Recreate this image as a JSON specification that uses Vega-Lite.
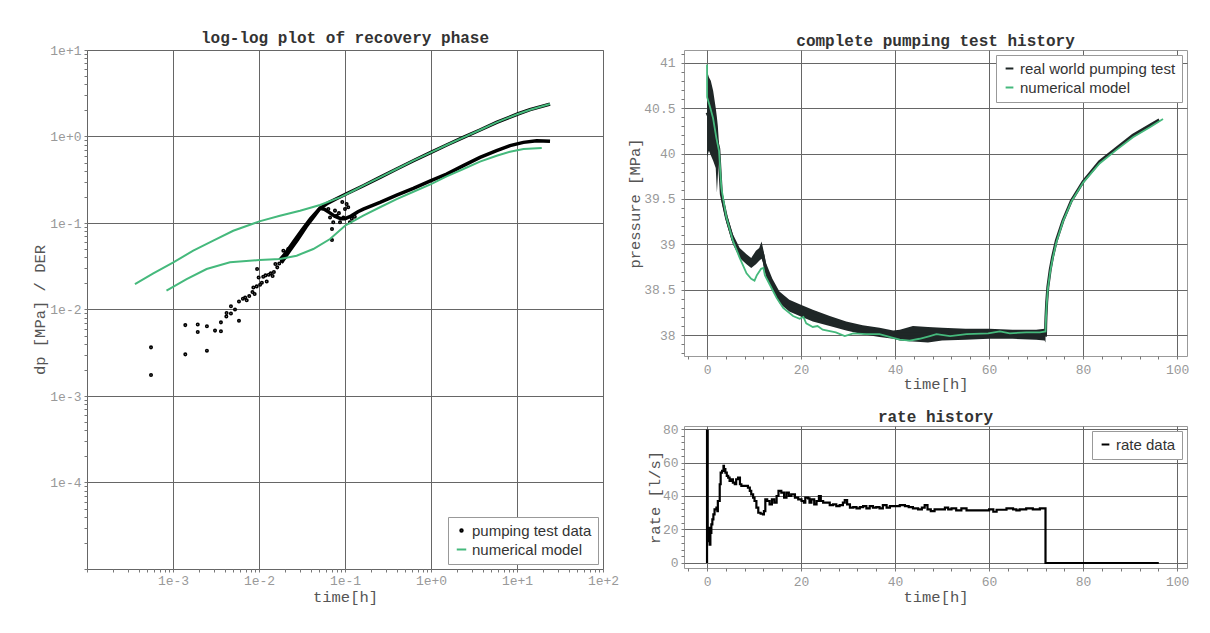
{
  "$schema": "https://vega.github.io/schema/vega-lite/v6.json",
  "autosize": {"type": "pad"},
  "padding": {"left": 32, "top": 29, "right": 5, "bottom": 5},
  "background": "white",
  "config": {
    "font": "Liberation Mono",
    "view": {"stroke": "#999999", "strokeWidth": 1},
    "axis": {
      "domain": false, "grid": true, "gridColor": "#666666", "gridWidth": 1,
      "tickColor": "#777777", "tickWidth": 1, "tickSize": 3,
      "labelFont": "Liberation Mono", "labelFontSize": 13, "labelColor": "#999999",
      "titleFont": "Liberation Mono", "titleFontSize": 15.5, "titleFontWeight": "normal", "titleColor": "#555555",
      "labelFlush": false, "labelOverlap": false, "labelBound": false
    },
    "title": {"font": "Liberation Mono", "fontSize": 16, "fontWeight": "bold", "color": "#333333", "offset": -1.5, "frame": "group", "anchor": "middle"},
    "legend": {
      "labelFont": "Liberation Sans", "labelFontSize": 15, "labelColor": "#333333",
      "strokeColor": "#999999", "fillColor": "white", "padding": 6, "offset": 5,
      "rowPadding": 3, "labelOffset": 3, "symbolStrokeWidth": 2, "symbolSize": 60, "symbolType": "stroke"
    }
  },
  "resolve": {"scale": {"color": "independent", "shape": "independent", "size": "independent"}, "legend": {"color": "independent", "shape": "independent", "size": "independent"}},
  "datasets": {
    "llpts": [
      {"t":0.000555,"v":0.00365,"s":"pumping test data"},{"t":0.000555,"v":0.00175,"s":"pumping test data"},
      {"t":0.00139,"v":0.0066,"s":"pumping test data"},{"t":0.00139,"v":0.00303,"s":"pumping test data"},
      {"t":0.00194,"v":0.0067,"s":"pumping test data"},{"t":0.00194,"v":0.0055,"s":"pumping test data"},
      {"t":0.00248,"v":0.0064,"s":"pumping test data"},{"t":0.00248,"v":0.00334,"s":"pumping test data"},
      {"t":0.00308,"v":0.0057,"s":"pumping test data"},{"t":0.00361,"v":0.0071,"s":"pumping test data"},
      {"t":0.00361,"v":0.0056,"s":"pumping test data"},{"t":0.00417,"v":0.0083,"s":"pumping test data"},
      {"t":0.0042,"v":0.0091,"s":"pumping test data"},{"t":0.00472,"v":0.0109,"s":"pumping test data"},
      {"t":0.00472,"v":0.009,"s":"pumping test data"},{"t":0.00526,"v":0.01,"s":"pumping test data"},
      {"t":0.00585,"v":0.0074,"s":"pumping test data"},{"t":0.00585,"v":0.0124,"s":"pumping test data"},
      {"t":0.0065,"v":0.0133,"s":"pumping test data"},{"t":0.0069,"v":0.0138,"s":"pumping test data"},
      {"t":0.0072,"v":0.0128,"s":"pumping test data"},{"t":0.0077,"v":0.0143,"s":"pumping test data"},
      {"t":0.0084,"v":0.0159,"s":"pumping test data"},{"t":0.0086,"v":0.018,"s":"pumping test data"},
      {"t":0.0089,"v":0.0151,"s":"pumping test data"},{"t":0.0094,"v":0.0185,"s":"pumping test data"},
      {"t":0.0095,"v":0.0294,"s":"pumping test data"},{"t":0.0099,"v":0.0235,"s":"pumping test data"},
      {"t":0.0103,"v":0.0193,"s":"pumping test data"},{"t":0.0108,"v":0.0204,"s":"pumping test data"},
      {"t":0.0112,"v":0.0239,"s":"pumping test data"},{"t":0.0119,"v":0.0248,"s":"pumping test data"},
      {"t":0.0123,"v":0.0211,"s":"pumping test data"},{"t":0.013,"v":0.0252,"s":"pumping test data"},
      {"t":0.0137,"v":0.0262,"s":"pumping test data"},{"t":0.0144,"v":0.0244,"s":"pumping test data"},
      {"t":0.0149,"v":0.0271,"s":"pumping test data"},{"t":0.0155,"v":0.0336,"s":"pumping test data"},
      {"t":0.0163,"v":0.0307,"s":"pumping test data"},{"t":0.0172,"v":0.0341,"s":"pumping test data"},
      {"t":0.0185,"v":0.0366,"s":"pumping test data"},{"t":0.0192,"v":0.0479,"s":"pumping test data"},
      {"t":0.02,"v":0.04,"s":"pumping test data"},{"t":0.0219,"v":0.05,"s":"pumping test data"},
      {"t":0.0706,"v":0.0852,"s":"pumping test data"},{"t":0.0706,"v":0.0635,"s":"pumping test data"},
      {"t":0.1045,"v":0.166,"s":"pumping test data"},{"t":0.109,"v":0.152,"s":"pumping test data"},
      {"t":0.1,"v":0.145,"s":"pumping test data"},{"t":0.067,"v":0.116,"s":"pumping test data"},
      {"t":0.073,"v":0.102,"s":"pumping test data"},{"t":0.0875,"v":0.102,"s":"pumping test data"},
      {"t":0.114,"v":0.102,"s":"pumping test data"},{"t":0.08,"v":0.121,"s":"pumping test data"},
      {"t":0.0957,"v":0.116,"s":"pumping test data"},{"t":0.064,"v":0.145,"s":"pumping test data"},
      {"t":0.0765,"v":0.139,"s":"pumping test data"},{"t":0.12,"v":0.112,"s":"pumping test data"},
      {"t":0.13,"v":0.118,"s":"pumping test data"},{"t":0.093,"v":0.175,"s":"pumping test data"},
      {"t":0.085,"v":0.13,"s":"pumping test data"}
    ],
    "lltrace": [
      {"t":0.01738,"v":0.03715,"c":"dp","s":"pumping test data"},{"t":0.01995,"v":0.04365,"c":"dp","s":"pumping test data"},
      {"t":0.02512,"v":0.06026,"c":"dp","s":"pumping test data"},{"t":0.03162,"v":0.08318,"c":"dp","s":"pumping test data"},
      {"t":0.03981,"v":0.1122,"c":"dp","s":"pumping test data"},{"t":0.05012,"v":0.1445,"c":"dp","s":"pumping test data"},
      {"t":0.0631,"v":0.1698,"c":"dp","s":"pumping test data"},{"t":0.07943,"v":0.1905,"c":"dp","s":"pumping test data"},
      {"t":0.1,"v":0.2138,"c":"dp","s":"pumping test data"},{"t":0.1633,"v":0.2698,"c":"dp","s":"pumping test data"},
      {"t":0.2553,"v":0.3373,"c":"dp","s":"pumping test data"},{"t":0.399,"v":0.4207,"c":"dp","s":"pumping test data"},
      {"t":0.6237,"v":0.5248,"c":"dp","s":"pumping test data"},{"t":1.0,"v":0.6561,"c":"dp","s":"pumping test data"},
      {"t":1.521,"v":0.798,"c":"dp","s":"pumping test data"},{"t":2.377,"v":0.9772,"c":"dp","s":"pumping test data"},
      {"t":3.715,"v":1.189,"c":"dp","s":"pumping test data"},{"t":5.794,"v":1.459,"c":"dp","s":"pumping test data"},
      {"t":10.19,"v":1.82,"c":"dp","s":"pumping test data"},{"t":14.16,"v":2.042,"c":"dp","s":"pumping test data"},
      {"t":24.21,"v":2.371,"c":"dp","s":"pumping test data"},
      {"t":0.0182,"v":0.03467,"c":"der","s":"pumping test data"},{"t":0.02239,"v":0.04677,"c":"der","s":"pumping test data"},
      {"t":0.02818,"v":0.06457,"c":"der","s":"pumping test data"},{"t":0.03548,"v":0.0912,"c":"der","s":"pumping test data"},
      {"t":0.04467,"v":0.123,"c":"der","s":"pumping test data"},{"t":0.05129,"v":0.1479,"c":"der","s":"pumping test data"},
      {"t":0.05754,"v":0.1445,"c":"der","s":"pumping test data"},{"t":0.06607,"v":0.1318,"c":"der","s":"pumping test data"},
      {"t":0.07586,"v":0.1202,"c":"der","s":"pumping test data"},{"t":0.08913,"v":0.1122,"c":"der","s":"pumping test data"},
      {"t":0.1,"v":0.1122,"c":"der","s":"pumping test data"},{"t":0.1175,"v":0.1202,"c":"der","s":"pumping test data"},
      {"t":0.1413,"v":0.1349,"c":"der","s":"pumping test data"},{"t":0.1633,"v":0.1449,"c":"der","s":"pumping test data"},
      {"t":0.2553,"v":0.1734,"c":"der","s":"pumping test data"},{"t":0.399,"v":0.2104,"c":"der","s":"pumping test data"},
      {"t":0.6237,"v":0.2512,"c":"der","s":"pumping test data"},{"t":1.0,"v":0.3083,"c":"der","s":"pumping test data"},
      {"t":1.521,"v":0.3681,"c":"der","s":"pumping test data"},{"t":2.377,"v":0.4603,"c":"der","s":"pumping test data"},
      {"t":3.715,"v":0.5741,"c":"der","s":"pumping test data"},{"t":5.794,"v":0.6855,"c":"der","s":"pumping test data"},
      {"t":8.299,"v":0.7834,"c":"der","s":"pumping test data"},{"t":11.86,"v":0.8551,"c":"der","s":"pumping test data"},
      {"t":16.94,"v":0.8954,"c":"der","s":"pumping test data"},{"t":24.21,"v":0.879,"c":"der","s":"pumping test data"}
    ],
    "llmodel": [
      {"t":0.000361,"v":0.0197,"c":"m1","s":"numerical model"},{"t":0.00059,"v":0.0262,"c":"m1","s":"numerical model"},
      {"t":0.00101,"v":0.0351,"c":"m1","s":"numerical model"},{"t":0.00172,"v":0.0479,"c":"m1","s":"numerical model"},
      {"t":0.00294,"v":0.0624,"c":"m1","s":"numerical model"},{"t":0.00502,"v":0.0814,"c":"m1","s":"numerical model"},
      {"t":0.0101,"v":0.1044,"c":"m1","s":"numerical model"},{"t":0.0175,"v":0.1214,"c":"m1","s":"numerical model"},
      {"t":0.03,"v":0.1387,"c":"m1","s":"numerical model"},{"t":0.0512,"v":0.1613,"c":"m1","s":"numerical model"},
      {"t":0.0875,"v":0.198,"c":"m1","s":"numerical model"},{"t":0.125,"v":0.236,"c":"m1","s":"numerical model"},
      {"t":0.163,"v":0.27,"c":"m1","s":"numerical model"},{"t":0.255,"v":0.337,"c":"m1","s":"numerical model"},
      {"t":0.399,"v":0.421,"c":"m1","s":"numerical model"},{"t":0.624,"v":0.525,"c":"m1","s":"numerical model"},
      {"t":1.0,"v":0.656,"c":"m1","s":"numerical model"},{"t":1.52,"v":0.798,"c":"m1","s":"numerical model"},
      {"t":2.38,"v":0.977,"c":"m1","s":"numerical model"},{"t":3.71,"v":1.189,"c":"m1","s":"numerical model"},
      {"t":5.79,"v":1.459,"c":"m1","s":"numerical model"},{"t":10.2,"v":1.82,"c":"m1","s":"numerical model"},
      {"t":14.2,"v":2.04,"c":"m1","s":"numerical model"},{"t":24.2,"v":2.38,"c":"m1","s":"numerical model"},
      {"t":0.00084,"v":0.0165,"c":"m2","s":"numerical model"},{"t":0.00144,"v":0.0225,"c":"m2","s":"numerical model"},
      {"t":0.00246,"v":0.0294,"c":"m2","s":"numerical model"},{"t":0.0046,"v":0.0351,"c":"m2","s":"numerical model"},
      {"t":0.0101,"v":0.0373,"c":"m2","s":"numerical model"},{"t":0.0175,"v":0.0383,"c":"m2","s":"numerical model"},
      {"t":0.0274,"v":0.0419,"c":"m2","s":"numerical model"},{"t":0.0428,"v":0.05,"c":"m2","s":"numerical model"},
      {"t":0.067,"v":0.0653,"c":"m2","s":"numerical model"},{"t":0.1,"v":0.093,"c":"m2","s":"numerical model"},
      {"t":0.163,"v":0.122,"c":"m2","s":"numerical model"},{"t":0.255,"v":0.152,"c":"m2","s":"numerical model"},
      {"t":0.399,"v":0.189,"c":"m2","s":"numerical model"},{"t":0.624,"v":0.23,"c":"m2","s":"numerical model"},
      {"t":1.0,"v":0.282,"c":"m2","s":"numerical model"},{"t":1.52,"v":0.346,"c":"m2","s":"numerical model"},
      {"t":2.38,"v":0.421,"c":"m2","s":"numerical model"},{"t":3.71,"v":0.512,"c":"m2","s":"numerical model"},
      {"t":5.8,"v":0.6,"c":"m2","s":"numerical model"},{"t":8.29,"v":0.667,"c":"m2","s":"numerical model"},
      {"t":11.9,"v":0.716,"c":"m2","s":"numerical model"},{"t":19.4,"v":0.736,"c":"m2","s":"numerical model"}
    ],
    "band": [
      {"t":0,"p":39.96,"hi":40.91},{"t":0.4,"p":40.03,"hi":40.84},{"t":0.8,"p":39.98,"hi":40.8},
      {"t":1.3,"p":39.92,"hi":40.69},{"t":1.85,"p":39.84,"hi":40.5},{"t":2.1,"p":39.57,"hi":40.4},
      {"t":2.3,"p":39.75,"hi":40.3},{"t":2.5,"p":39.96,"hi":40.14},{"t":2.8,"p":39.7,"hi":39.95},
      {"t":3.05,"p":39.48,"hi":39.63},{"t":4.1,"p":39.24,"hi":39.35},{"t":5.5,"p":39.0,"hi":39.11},
      {"t":6.95,"p":38.85,"hi":38.96},{"t":8.4,"p":38.78,"hi":38.89},{"t":9.4,"p":38.74,"hi":38.85},
      {"t":10.4,"p":38.78,"hi":38.93},{"t":11.1,"p":38.82,"hi":38.96},{"t":11.6,"p":38.84,"hi":39.03},
      {"t":11.9,"p":38.8,"hi":38.96},{"t":12.5,"p":38.65,"hi":38.8},{"t":13.9,"p":38.49,"hi":38.62},
      {"t":15.4,"p":38.35,"hi":38.48},{"t":17.5,"p":38.26,"hi":38.39},{"t":19.7,"p":38.21,"hi":38.34},
      {"t":22.5,"p":38.15,"hi":38.28},{"t":26.1,"p":38.1,"hi":38.21},{"t":29.6,"p":38.05,"hi":38.15},
      {"t":33.1,"p":38.01,"hi":38.11},{"t":36.7,"p":37.98,"hi":38.08},{"t":39.6,"p":37.96,"hi":38.05},
      {"t":41,"p":37.94,"hi":38.06},{"t":43.8,"p":37.93,"hi":38.1},{"t":47,"p":37.92,"hi":38.09},
      {"t":50,"p":37.94,"hi":38.08},{"t":55,"p":37.95,"hi":38.07},{"t":60,"p":37.96,"hi":38.07},
      {"t":65,"p":37.96,"hi":38.06},{"t":70,"p":37.95,"hi":38.06},{"t":71.8,"p":37.94,"hi":38.07},
      {"t":72,"p":37.92,"hi":38.06}
    ],
    "rw": [
      {"t":0,"p":40.45},{"t":1.3,"p":40.3},{"t":2.5,"p":40.05},{"t":3.05,"p":39.55},{"t":4.1,"p":39.3},
      {"t":5.5,"p":39.05},{"t":6.95,"p":38.9},{"t":8.4,"p":38.83},{"t":9.4,"p":38.8},{"t":10.4,"p":38.85},
      {"t":11.1,"p":38.89},{"t":11.6,"p":38.93},{"t":11.9,"p":38.88},{"t":12.5,"p":38.72},{"t":13.9,"p":38.55},
      {"t":15.4,"p":38.42},{"t":17.5,"p":38.33},{"t":19.7,"p":38.28},{"t":22.5,"p":38.22},{"t":26.1,"p":38.16},
      {"t":29.6,"p":38.1},{"t":33.1,"p":38.06},{"t":36.7,"p":38.03},{"t":39.6,"p":38.01},{"t":43.8,"p":38.01},
      {"t":50,"p":38.01},{"t":60,"p":38.015},{"t":70,"p":38.01},{"t":72,"p":38.0},{"t":72.05,"p":38.12},
      {"t":72.1,"p":38.2},{"t":72.25,"p":38.36},{"t":72.5,"p":38.53},{"t":73,"p":38.72},{"t":73.5,"p":38.86},
      {"t":74.3,"p":39.04},{"t":75.7,"p":39.26},{"t":77.5,"p":39.48},{"t":80,"p":39.69},{"t":83.5,"p":39.91},
      {"t":87.1,"p":40.06},{"t":90.6,"p":40.2},{"t":94.2,"p":40.31},{"t":96.2,"p":40.37}
    ],
    "nm": [
      {"t":0,"p":40.98},{"t":0.02,"p":40.62},{"t":0.6,"p":40.52},{"t":1.28,"p":40.39},{"t":1.99,"p":40.17},
      {"t":2.55,"p":40.03},{"t":3.05,"p":39.62},{"t":4.1,"p":39.3},{"t":5.5,"p":39.04},{"t":6.95,"p":38.85},
      {"t":8.4,"p":38.68},{"t":9.4,"p":38.62},{"t":10.1,"p":38.6},{"t":10.6,"p":38.66},{"t":11.5,"p":38.73},
      {"t":12.0,"p":38.74},{"t":12.3,"p":38.66},{"t":13.3,"p":38.56},{"t":14.8,"p":38.41},{"t":16.2,"p":38.3},
      {"t":18.3,"p":38.21},{"t":19.7,"p":38.18},{"t":20.5,"p":38.2},{"t":21.1,"p":38.13},{"t":22.5,"p":38.09},
      {"t":23.5,"p":38.1},{"t":24.6,"p":38.06},{"t":27.4,"p":38.03},{"t":29.3,"p":37.99},{"t":31.1,"p":38.02},
      {"t":33.9,"p":38.01},{"t":36.7,"p":38.01},{"t":39.6,"p":37.97},{"t":41,"p":37.95},{"t":43.1,"p":37.94},
      {"t":45.2,"p":37.96},{"t":47.4,"p":37.99},{"t":48.8,"p":38.01},{"t":51.7,"p":37.99},{"t":55.2,"p":38.01},
      {"t":59.8,"p":38.02},{"t":62.3,"p":38.04},{"t":64.4,"p":38.02},{"t":67.9,"p":38.03},{"t":70.8,"p":38.03},
      {"t":72,"p":38.04},{"t":72.05,"p":38.12},{"t":72.1,"p":38.19},{"t":72.25,"p":38.34},{"t":72.5,"p":38.51},
      {"t":73,"p":38.7},{"t":73.5,"p":38.84},{"t":74.3,"p":39.02},{"t":75.7,"p":39.25},{"t":77.5,"p":39.47},
      {"t":80,"p":39.68},{"t":83.5,"p":39.89},{"t":87.1,"p":40.04},{"t":90.6,"p":40.18},{"t":94.2,"p":40.29},
      {"t":97,"p":40.38}
    ],
    "rate": [
      {"t":0,"r":0},{"t":0,"r":79},{"t":0.14,"r":17},{"t":0.28,"r":13},{"t":0.43,"r":21},{"t":0.57,"r":11},
      {"t":0.71,"r":18},{"t":0.92,"r":23},{"t":1.13,"r":26},{"t":1.35,"r":29},{"t":1.6,"r":32},{"t":2.0,"r":33},
      {"t":2.2,"r":31},{"t":2.3,"r":37},{"t":2.7,"r":47},{"t":2.9,"r":54},{"t":3.2,"r":55},{"t":3.5,"r":58},
      {"t":3.6,"r":56},{"t":3.9,"r":54},{"t":4.2,"r":52},{"t":4.5,"r":51},{"t":4.8,"r":49},{"t":5.2,"r":50},
      {"t":5.5,"r":48},{"t":5.9,"r":47},{"t":6.2,"r":50},{"t":6.6,"r":51},{"t":7.0,"r":47},{"t":7.3,"r":46},
      {"t":8.0,"r":46},{"t":8.7,"r":45},{"t":9.1,"r":43},{"t":9.4,"r":41},{"t":9.8,"r":39},{"t":10.1,"r":37},
      {"t":10.5,"r":33},{"t":10.9,"r":30},{"t":11.4,"r":29.4},{"t":11.9,"r":29},{"t":12.1,"r":31},{"t":12.4,"r":38},
      {"t":12.8,"r":37},{"t":13.3,"r":35},{"t":13.8,"r":38},{"t":14.3,"r":36},{"t":14.8,"r":40},{"t":15.2,"r":43},
      {"t":15.8,"r":42},{"t":16.4,"r":39},{"t":16.9,"r":42},{"t":17.4,"r":40},{"t":17.9,"r":41},{"t":18.7,"r":39},
      {"t":19.4,"r":38},{"t":20.1,"r":37},{"t":20.6,"r":36},{"t":20.9,"r":39},{"t":21.5,"r":38.6},{"t":21.8,"r":36},
      {"t":22.2,"r":38},{"t":22.8,"r":35},{"t":23.3,"r":37},{"t":23.8,"r":40},{"t":24.2,"r":37},{"t":24.7,"r":36},
      {"t":25.4,"r":36},{"t":26.1,"r":34.6},{"t":26.8,"r":35},{"t":27.5,"r":34},{"t":28.2,"r":34.6},{"t":28.9,"r":36},
      {"t":29.3,"r":37.6},{"t":29.8,"r":35},{"t":30.4,"r":33},{"t":31.1,"r":33.4},{"t":31.8,"r":32.6},{"t":32.5,"r":33.4},
      {"t":33.2,"r":34},{"t":33.9,"r":32.6},{"t":34.6,"r":34},{"t":35.3,"r":33},{"t":36.0,"r":33.4},{"t":36.7,"r":32.6},
      {"t":37.4,"r":34.6},{"t":38.2,"r":33},{"t":38.9,"r":34},{"t":39.9,"r":34},{"t":41.0,"r":34.6},{"t":42.1,"r":34},
      {"t":42.9,"r":33.4},{"t":43.8,"r":32.6},{"t":44.9,"r":32},{"t":45.7,"r":33},{"t":46.3,"r":34.6},{"t":46.9,"r":32},
      {"t":47.6,"r":31},{"t":48.4,"r":32},{"t":49.5,"r":32},{"t":50.6,"r":33},{"t":51.3,"r":32},{"t":52.0,"r":32.6},
      {"t":53.0,"r":31.4},{"t":54.1,"r":32.6},{"t":55.2,"r":31.4},{"t":56.9,"r":31.4},{"t":59.1,"r":31.4},{"t":60,"r":32},
      {"t":60.9,"r":30.6},{"t":61.6,"r":31.8},{"t":63.7,"r":32.6},{"t":65.1,"r":32},{"t":65.8,"r":31.4},{"t":66.5,"r":32},
      {"t":67.9,"r":32.6},{"t":69.3,"r":32},{"t":70.8,"r":32.6},{"t":72.0,"r":32.6},{"t":72.0,"r":0},{"t":96.1,"r":0}
    ]
  },
  "hconcat": [
    {
      "width": 516,
      "height": 519,
      "title": {"text": "log-log plot of recovery phase"},
      "layer": [
        {
          "data": {"name": "lltrace"},
          "mark": {"type": "line", "strokeWidth": 3.5},
          "encoding": {
            "x": {"field": "t", "type": "quantitative", "title": "time[h]",
              "scale": {"type": "log", "domain": [0.0001, 100], "nice": false},
              "axis": {
                "values": [1e-4,2e-4,3e-4,4e-4,5e-4,6e-4,7e-4,8e-4,9e-4,1e-3,2e-3,3e-3,4e-3,5e-3,6e-3,7e-3,8e-3,9e-3,1e-2,2e-2,3e-2,4e-2,5e-2,6e-2,7e-2,8e-2,9e-2,0.1,0.2,0.3,0.4,0.5,0.6,0.7,0.8,0.9,1,2,3,4,5,6,7,8,9,10,20,30,40,50,60,70,80,90,100],
                "labelExpr": "(abs(log(datum.value)/LN10 - round(log(datum.value)/LN10)) < 0.001 && datum.value > 0.0002) ? format(datum.value, '.0e') : ''",
                "gridOpacity": {"condition": {"test": "abs(log(datum.value)/LN10 - round(log(datum.value)/LN10)) < 0.001", "value": 1}, "value": 0},
                "labelOverlap": false, "labelPadding": 2, "titlePadding": 2
              }
            },
            "y": {"field": "v", "type": "quantitative", "title": "dp [MPa] / DER",
              "scale": {"type": "log", "domain": [0.00001, 10], "nice": false},
              "axis": {
                "values": [1e-5,2e-5,3e-5,4e-5,5e-5,6e-5,7e-5,8e-5,9e-5,1e-4,2e-4,3e-4,4e-4,5e-4,6e-4,7e-4,8e-4,9e-4,1e-3,2e-3,3e-3,4e-3,5e-3,6e-3,7e-3,8e-3,9e-3,1e-2,2e-2,3e-2,4e-2,5e-2,6e-2,7e-2,8e-2,9e-2,0.1,0.2,0.3,0.4,0.5,0.6,0.7,0.8,0.9,1,2,3,4,5,6,7,8,9,10],
                "labelExpr": "(abs(log(datum.value)/LN10 - round(log(datum.value)/LN10)) < 0.001 && datum.value > 0.00002) ? format(datum.value, '.0e') : ''",
                "gridOpacity": {"condition": {"test": "abs(log(datum.value)/LN10 - round(log(datum.value)/LN10)) < 0.001", "value": 1}, "value": 0},
                "labelOverlap": false, "labelPadding": 3, "titlePadding": 2
              }
            },
            "color": {"field": "s", "type": "nominal",
              "scale": {"domain": ["pumping test data", "numerical model"], "range": ["#000000", "#45b97c"]},
              "legend": {"title": null, "orient": "bottom-right"}},
            "detail": {"field": "c"}
          }
        },
        {
          "data": {"name": "llpts"},
          "mark": {"type": "point", "filled": false, "strokeWidth": 1.6, "opacity": 1},
          "encoding": {
            "x": {"field": "t", "type": "quantitative"},
            "y": {"field": "v", "type": "quantitative"},
            "color": {"field": "s", "type": "nominal", "legend": {"title": null, "orient": "bottom-right"}},
            "shape": {"field": "s", "type": "nominal",
              "scale": {"domain": ["pumping test data", "numerical model"], "range": ["circle", "stroke"]},
              "legend": {"title": null, "orient": "bottom-right"}},
            "size": {"field": "s", "type": "nominal",
              "scale": {"domain": ["pumping test data", "numerical model"], "range": [6, 90]},
              "legend": {"title": null, "orient": "bottom-right"}}
          }
        },
        {
          "data": {"name": "llmodel"},
          "mark": {"type": "line", "strokeWidth": 2},
          "encoding": {
            "x": {"field": "t", "type": "quantitative"},
            "y": {"field": "v", "type": "quantitative"},
            "color": {"field": "s", "type": "nominal", "legend": {"title": null, "orient": "bottom-right"}},
            "detail": {"field": "c"}
          }
        }
      ]
    },
    {
      "resolve": {"scale": {"color": "independent"}, "legend": {"color": "independent"}},
      "vconcat": [
        {
          "width": 503,
          "height": 306,
          "title": {"text": "complete pumping test history"},
          "encoding": {
            "x": {"field": "t", "type": "quantitative", "title": "time[h]",
              "scale": {"domain": [-4.9, 102.1], "nice": false, "zero": false},
              "axis": {
                "values": [-4,0,4,8,12,16,20,24,28,32,36,40,44,48,52,56,60,64,68,72,76,80,84,88,92,96,100],
                "labelExpr": "datum.value % 20 === 0 ? datum.label : ''",
                "gridOpacity": {"condition": {"test": "datum.value % 20 === 0", "value": 1}, "value": 0},
                "labelOverlap": false, "labelPadding": 4, "titlePadding": 0
              }
            },
            "y": {"field": "p", "type": "quantitative", "title": "pressure [MPa]",
              "scale": {"domain": [37.77, 41.14], "nice": false, "zero": false},
              "axis": {
                "values": [37.8,37.9,38,38.1,38.2,38.3,38.4,38.5,38.6,38.7,38.8,38.9,39,39.1,39.2,39.3,39.4,39.5,39.6,39.7,39.8,39.9,40,40.1,40.2,40.3,40.4,40.5,40.6,40.7,40.8,40.9,41,41.1],
                "labelExpr": "abs(datum.value*2 - round(datum.value*2)) < 0.001 ? format(datum.value, '~g') : ''",
                "gridOpacity": {"condition": {"test": "abs(datum.value*2 - round(datum.value*2)) < 0.001", "value": 1}, "value": 0},
                "labelOverlap": false, "labelPadding": 6, "titlePadding": 1
              }
            }
          },
          "layer": [
            {
              "data": {"name": "band"},
              "mark": {"type": "area", "color": "#1f2727", "opacity": 1},
              "encoding": {"y2": {"field": "hi"}}
            },
            {
              "data": {"name": "rw"},
              "transform": [{"calculate": "'real world pumping test'", "as": "s"}],
              "mark": {"type": "line", "strokeWidth": 3},
              "encoding": {
                "color": {"field": "s", "type": "nominal",
                  "scale": {"domain": ["real world pumping test", "numerical model"], "range": ["#1f2727", "#45b97c"]},
                  "legend": {"title": null, "orient": "top-right"}}
              }
            },
            {
              "data": {"name": "nm"},
              "transform": [{"calculate": "'numerical model'", "as": "s"}],
              "mark": {"type": "line", "strokeWidth": 1.8},
              "encoding": {
                "color": {"field": "s", "type": "nominal", "legend": {"title": null, "orient": "top-right"}}
              }
            }
          ]
        },
        {
          "width": 503,
          "height": 142,
          "title": {"text": "rate history"},
          "data": {"name": "rate"},
          "transform": [{"calculate": "'rate data'", "as": "s"}],
          "mark": {"type": "line", "interpolate": "step-after", "strokeWidth": 2.2},
          "encoding": {
            "x": {"field": "t", "type": "quantitative", "title": "time[h]",
              "scale": {"domain": [-4.9, 102.1], "nice": false, "zero": false},
              "axis": {
                "values": [-4,0,4,8,12,16,20,24,28,32,36,40,44,48,52,56,60,64,68,72,76,80,84,88,92,96,100],
                "labelExpr": "datum.value % 20 === 0 ? datum.label : ''",
                "gridOpacity": {"condition": {"test": "datum.value % 20 === 0", "value": 1}, "value": 0},
                "labelOverlap": false, "labelPadding": 4, "titlePadding": 1
              }
            },
            "y": {"field": "r", "type": "quantitative", "title": "rate [l/s]",
              "scale": {"domain": [-3, 81.8], "nice": false, "zero": false},
              "axis": {
                "values": [0,4,8,12,16,20,24,28,32,36,40,44,48,52,56,60,64,68,72,76,80],
                "labelExpr": "datum.value % 20 === 0 ? datum.label : ''",
                "gridOpacity": {"condition": {"test": "datum.value % 20 === 0", "value": 1}, "value": 0},
                "labelOverlap": false, "labelPadding": 3, "titlePadding": 0
              }
            },
            "color": {"field": "s", "type": "nominal",
              "scale": {"domain": ["rate data"], "range": ["#000000"]},
              "legend": {"title": null, "orient": "top-right"}}
          }
        }
      ],
      "spacing": 70,
      "bounds": "flush"
    }
  ],
  "spacing": 81,
  "bounds": "flush"
}
